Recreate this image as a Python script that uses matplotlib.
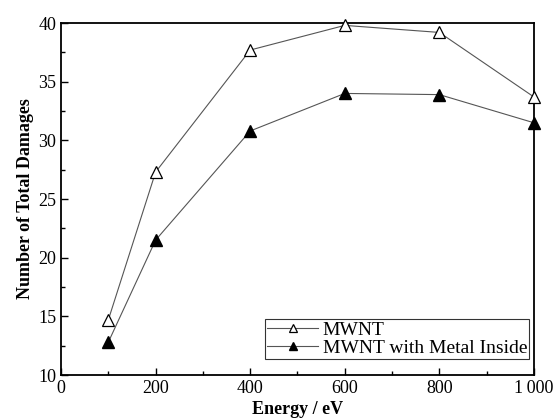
import matplotlib
matplotlib.use("Agg")
import matplotlib.pyplot as plt
from matplotlib.ticker import MultipleLocator, FuncFormatter

energy = [100, 200, 400, 600, 800, 1000]
mwnt = [14.7, 27.3, 37.7, 39.8, 39.2, 33.7]
mwnt_metal = [12.8, 21.5, 30.8, 34.0, 33.9, 31.5]

plt.rcParams['font.family'] = ['Liberation Serif', 'DejaVu Serif']

fig = plt.figure(figsize=(5.55, 4.19), dpi=100)
ax = fig.add_axes([0.110, 0.105, 0.852, 0.840])

ax.plot(energy, mwnt, color='#555555', lw=0.8, marker='^', markersize=9,
        markerfacecolor='white', markeredgecolor='black', markeredgewidth=0.9,
        label='MWNT', clip_on=False, zorder=3)
ax.plot(energy, mwnt_metal, color='#555555', lw=0.8, marker='^', markersize=9,
        markerfacecolor='black', markeredgecolor='black',
        label='MWNT with Metal Inside', clip_on=False, zorder=3)

ax.set_xlim(0, 1000)
ax.set_ylim(10, 40)
ax.xaxis.set_major_locator(MultipleLocator(200))
ax.xaxis.set_minor_locator(MultipleLocator(100))
ax.yaxis.set_major_locator(MultipleLocator(5))
ax.yaxis.set_minor_locator(MultipleLocator(2.5))
ax.xaxis.set_major_formatter(FuncFormatter(lambda v, p: '1\u2009000' if v == 1000 else f'{int(v)}'))
ax.tick_params(which='both', direction='in', top=False, right=False, labelsize=13, width=1)
ax.tick_params(which='major', length=5)
ax.tick_params(which='minor', length=3)
for s in ax.spines.values():
    s.set_linewidth(1.3)

ax.set_xlabel('Energy / eV', fontsize=13, fontweight='bold', labelpad=3)
ax.set_ylabel('Number of Total Damages', fontsize=13, fontweight='bold', labelpad=3)

leg = ax.legend(loc='lower right', fontsize=14, frameon=True, fancybox=False,
                edgecolor='black', borderpad=0.1, handlelength=2.6, handletextpad=0.25,
                labelspacing=0.05, borderaxespad=0.0, markerscale=0.7,
                bbox_to_anchor=(0.99, 0.045))
leg.get_frame().set_linewidth(0.8)

fig.savefig('out.png', dpi=100)
